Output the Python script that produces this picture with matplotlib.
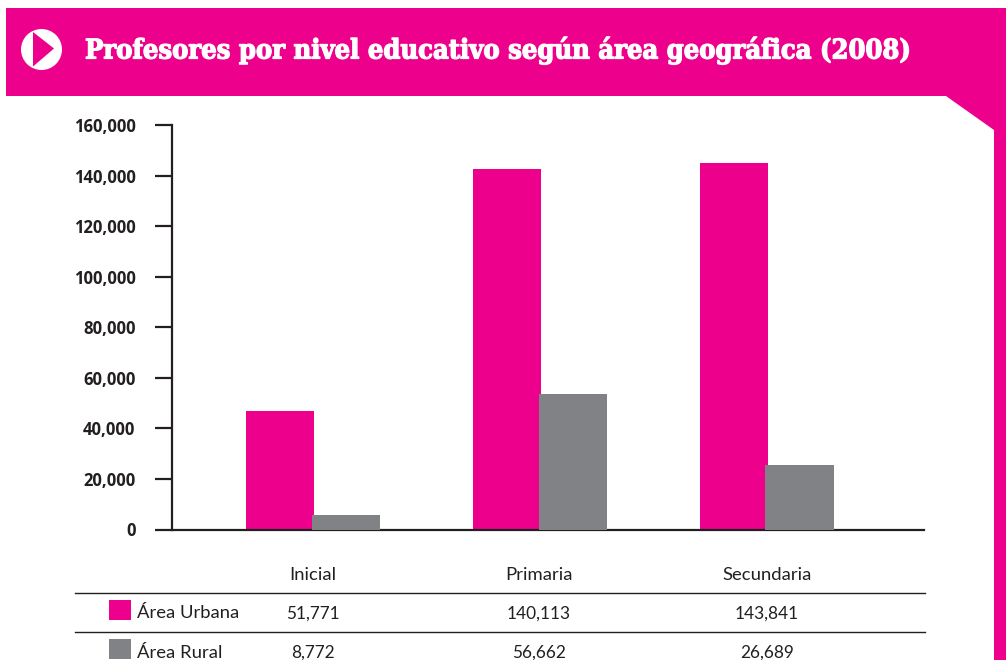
import matplotlib
matplotlib.use('Agg')
import matplotlib.pyplot as plt
import matplotlib.patheffects as pe
from matplotlib.patches import Polygon, Rectangle, Circle

# values (they differ from the printed table)
categories = ['Inicial', 'Primaria', 'Secundaria']
urbana_bars = [46900, 142600, 145000]
rural_bars = [5700, 53600, 25500]
# values printed in the table
urbana_table = ['51,771', '140,113', '143,841']
rural_table = ['8,772', '56,662', '26,689']
y_ticks = [0, 20000, 40000, 60000, 80000, 100000, 120000, 140000, 160000]
title = 'Profesores por nivel educativo según área geográfica (2008)'
serie_names = ['Área Urbana', 'Área Rural']

PINK = '#ec008c'
GREY = '#808285'
DARK = '#231f20'
W, H = 1006, 660


def draw():
    fig = plt.figure(figsize=(W / 100, H / 100), dpi=100, facecolor='white')

    # page decoration, in pixels
    bg = fig.add_axes([0, 0, 1, 1])
    bg.set_xlim(0, W)
    bg.set_ylim(H, 0)
    bg.axis('off')
    bg.add_patch(Polygon([(6, 8), (1006, 8), (1006, 660), (994, 660), (994, 130),
                          (946, 96), (6, 96)], closed=True, fc=PINK, ec='none'))
    bg.add_patch(Circle((41.5, 49.5), 20.5, fc='white', ec='none'))
    bg.add_patch(Polygon([(33, 32), (54, 48.5), (33, 66.5)], closed=True, fc=PINK, ec='none'))
    t = bg.text(85, 50, title, color='white', fontsize=19.5, fontweight='bold',
                family='DejaVu Serif', stretch='condensed', va='center', ha='left')
    t.set_path_effects([pe.withStroke(linewidth=0.9, foreground='white')])

    # bars
    ax = fig.add_axes([172 / W, (H - 529.5) / H, 752.5 / W, 404.5 / H])
    ax.patch.set_alpha(0)
    x = list(range(len(categories)))
    ax.bar([i - 0.145 for i in x], urbana_bars, 0.3, color=PINK, zorder=2)
    ax.bar([i + 0.145 for i in x], rural_bars, 0.3, color=GREY, zorder=3)
    ax.set_xlim(-0.621, 2.696)
    ax.set_ylim(0, 160000)
    ax.set_xticks([])
    ax.set_yticks(y_ticks)
    ax.set_yticklabels([f'{v:,}' for v in y_ticks], fontsize=12, fontweight='bold',
                       family='Open Sans', color=DARK)
    ax.tick_params(axis='y', length=12.2, width=1.6, color=DARK, pad=14)
    for side in ['top', 'right']:
        ax.spines[side].set_visible(False)
    for side in ['left', 'bottom']:
        ax.spines[side].set_linewidth(1.6)
        ax.spines[side].set_color(DARK)

    # table below the chart
    table_x = [313, 539, 767]
    font = dict(family='Lato', fontsize=13.3, color=DARK, va='center')
    num_font = dict(font, fontsize=12.4)
    for px, cat, u, r in zip(table_x, categories, urbana_table, rural_table):
        bg.text(px, 574.5, cat, ha='center', **font)
        bg.text(px, 613.5, u, ha='center', **num_font)
        bg.text(px, 652.5, r, ha='center', **num_font)
    for y_line in [592.7, 632]:
        bg.plot([75, 925], [y_line, y_line], color=DARK, lw=1.0)
    bg.add_patch(Rectangle((109, 600), 22, 20, fc=PINK, ec='none'))
    bg.add_patch(Rectangle((109, 639), 22, 20, fc=GREY, ec='none'))
    bg.text(137, 613.5, serie_names[0], ha='left', **font)
    bg.text(137, 652.5, serie_names[1], ha='left', **font)

    fig.savefig('out.png', dpi=100)


if __name__ == '__main__':
    draw()
